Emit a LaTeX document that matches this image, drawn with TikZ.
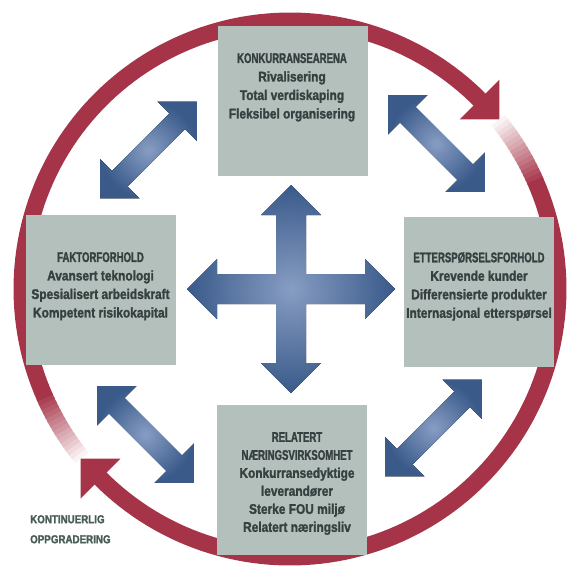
\documentclass[tikz,border=0pt]{standalone}
\usepackage{fontspec}
\usetikzlibrary{calc}
\newfontfamily\titlefont{Liberation Sans}[FakeStretch=0.685,FakeBold=1.6]
\newfontfamily\bodyfont{Liberation Sans}[FakeStretch=0.85,FakeBold=1.6]

\definecolor{ringred}{RGB}{166,52,72}
\definecolor{boxgray}{RGB}{180,192,188}
\definecolor{textgray}{RGB}{55,64,64}
\definecolor{labelgray}{RGB}{72,92,88}
\definecolor{arrowblue}{RGB}{58,90,138}
\definecolor{arrowlight}{RGB}{135,157,195}

\tikzset{
  ring/.style={line width=17pt, line cap=butt, draw=ringred},
  blockarrow/.style={inner color=arrowlight, outer color=arrowblue},
  box/.style={fill=boxgray, minimum width=150pt, minimum height=150pt, inner sep=0pt},
  boxtext/.style={align=center, inner sep=0pt, anchor=north, text=textgray,
    font=\fontsize{14}{18.5}\selectfont\bfseries\bodyfont},
  labeltext/.style={align=left, inner sep=0pt, anchor=north west, text=labelgray,
    font=\fontsize{11.5}{20}\selectfont\bfseries\bodyfont},
}

\begin{document}
\begin{tikzpicture}[x=1pt, y=-1pt]
  \fill[white] (0,0) rectangle (570,565);
  \useasboundingbox (0,0) rectangle (570,565);
  \coordinate (C) at (290,289);

  % circular upgrading ring: two half-circle arrows, each fading in at its tail
  \foreach \a in {141,321}{
    \foreach \i in {0,...,14}{
      \pgfmathsetmacro\s{\a+\i}
      \pgfmathsetmacro\e{\a+\i+1.4}
      \pgfmathtruncatemacro\p{(\i+1)*100/16}
      \draw[ring, draw=ringred!\p!white] plot[domain=\s:\e, samples=3]
        ({290+268*cos(\x)},{289+268*sin(\x)});
    }
    \pgfmathsetmacro\s{\a+15}
    \pgfmathsetmacro\e{\a+174.5}
    \draw[ring] plot[domain=\s:\e, samples=90]
      ({290+268*cos(\x)},{289+268*sin(\x)});
    \pgfmathsetmacro\h{\a+174}
    \pgfmathsetmacro\t{\a+264}
    \fill[ringred] ($(C)+(\h:240)$) -- ($(C)+(\h:296)$)
      -- ($(C)+(\h:268)+(\t:28)$) -- cycle;
  }

  % the four boxes
  \node[box] (konk) at (292.5,101) {};
  \node[box] (fakt) at (101,290) {};
  \node[box] (etter) at (479,292) {};
  \node[box] (rel) at (292,480) {};

  % diagonal double arrows between neighbouring boxes
  \foreach \cx/\cy/\r/\nm in {148.5/150/45/dul, 436.5/143.5/-45/dur, 145.5/434.5/-45/dll, 433.5/428/45/dlr}{
    \coordinate (\nm) at (\cx,\cy);
    \begin{scope}[shift={(\nm)}, rotate=\r]
      \fill[blockarrow] (-68.5,0) -- (-40.5,28) -- (-40.5,11) -- (40.5,11) -- (40.5,28)
        -- (68.5,0) -- (40.5,-28) -- (40.5,-11) -- (-40.5,-11) -- (-40.5,-28) -- cycle;
    \end{scope}
  }

  % central four-way arrow
  \coordinate (X) at (291,289);
  \begin{scope}[shift={(X)}]
    \fill[blockarrow] (0,104) -- (30,74) -- (15,74) -- (15,15) -- (74,15) -- (74,30)
      -- (104,0) -- (74,-30) -- (74,-15) -- (15,-15) -- (15,-74) -- (30,-74)
      -- (0,-104) -- (-30,-74) -- (-15,-74) -- (-15,-15) -- (-74,-15) -- (-74,-30)
      -- (-104,0) -- (-74,30) -- (-74,15) -- (-15,15) -- (-15,74) -- (-30,74) -- cycle;
  \end{scope}

  % box texts
  \node[boxtext] (tkonk) at (292,53)
    {{\titlefont KONKURRANSEARENA}\\Rivalisering\\Total verdiskaping\\Fleksibel organisering};
  \node[boxtext] (tfakt) at (100.5,252)
    {{\titlefont FAKTORFORHOLD}\\Avansert teknologi\\Spesialisert arbeidskraft\\Kompetent risikokapital};
  \node[boxtext] (tetter) at (479,252)
    {{\titlefont ETTERSPØRSELSFORHOLD}\\Krevende kunder\\Differensierte produkter\\Internasjonal etterspørsel};
  \node[boxtext, font=\fontsize{14}{18}\selectfont\bfseries\bodyfont] (trel) at (297,432)
    {{\titlefont RELATERT}\\{\titlefont NÆRINGSVIRKSOMHET}\\Konkurransedyktige\\leverandører\\Sterke FOU miljø\\Relatert næringsliv};

  \node[labeltext] (kont) at (30,515) {KONTINUERLIG\\OPPGRADERING};
\end{tikzpicture}
\end{document}
